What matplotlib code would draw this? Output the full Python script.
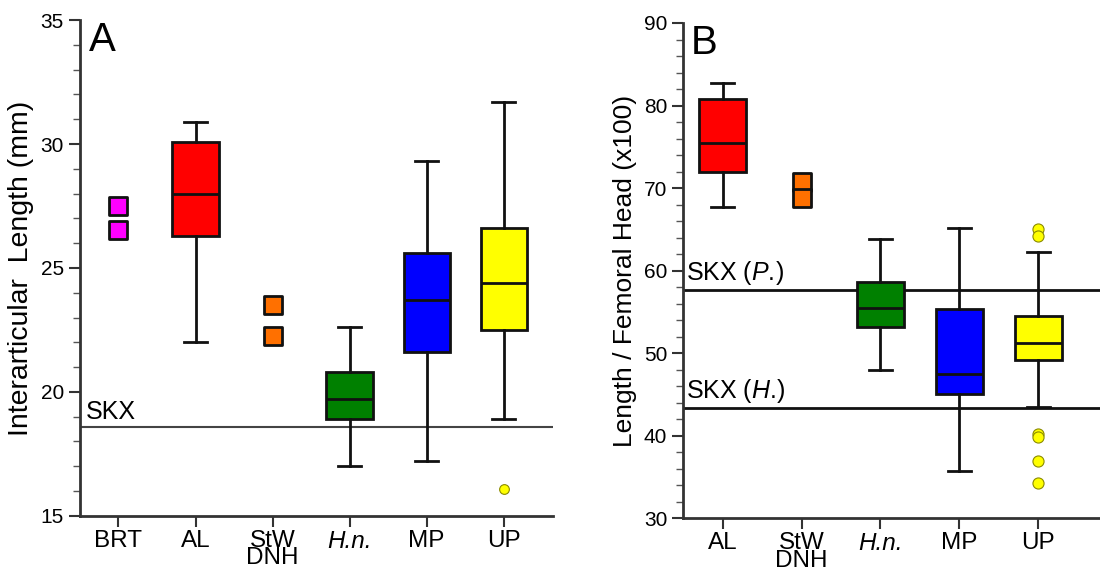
import matplotlib.pyplot as plt
from matplotlib.ticker import MultipleLocator

plt.rcParams['font.family'] = ['Liberation Sans', 'DejaVu Sans']
plt.rcParams['mathtext.fontset'] = 'custom'
plt.rcParams['mathtext.rm'] = 'Liberation Sans'
plt.rcParams['mathtext.it'] = 'Liberation Sans:italic'

# Panel A: interarticular length (mm)
cats_a = ['BRT', 'AL', 'StW\nDNH', 'H.n.', 'MP', 'UP']
brt_a = [27.5, 26.55]
stw_a = [23.5, 22.25]
box_names_a = ['AL', 'H.n.', 'MP', 'UP']
box_pos_a = [1, 3, 4, 5]
whislo_a = [22.0, 17.0, 17.2, 18.9]
q1_a = [26.3, 18.9, 21.6, 22.5]
med_a = [28.0, 19.7, 23.7, 24.4]
q3_a = [30.1, 20.8, 25.6, 26.6]
whishi_a = [30.9, 22.6, 29.3, 31.7]
fliers_a = [[], [], [], [16.1]]
colors_a = ['#ff0000', '#008000', '#0000ff', '#ffff00']
skx_a = 18.6

# Panel B: length / femoral head (x100)
cats_b = ['AL', 'StW\nDNH', 'H.n.', 'MP', 'UP']
stw_b = [70.7, 68.8]
box_names_b = ['AL', 'H.n.', 'MP', 'UP']
box_pos_b = [0, 2, 3, 4]
whislo_b = [67.7, 47.9, 35.7, 43.5]
q1_b = [72.0, 53.1, 45.0, 49.1]
med_b = [75.5, 55.4, 47.5, 51.2]
q3_b = [80.8, 58.6, 55.3, 54.5]
whishi_b = [82.7, 63.8, 65.1, 62.3]
fliers_b = [[], [], [], [65.0, 64.2, 40.2, 39.8, 36.9, 34.2]]
colors_b = ['#ff0000', '#008000', '#0000ff', '#ffff00']
skx_p = 57.7
skx_h = 43.4


def make_stats(names, lo, q1, med, q3, hi, fl):
    stats = []
    for i in range(len(names)):
        stats.append(dict(label=names[i], whislo=lo[i], q1=q1[i], med=med[i],
                          q3=q3[i], whishi=hi[i], fliers=fl[i]))
    return stats


def draw_boxes(ax, stats, pos, colors, flier_size):
    bp = ax.bxp(stats, positions=pos, widths=0.6, patch_artist=True,
                boxprops=dict(linewidth=2, edgecolor='#111111'),
                medianprops=dict(color='#111111', linewidth=2),
                whiskerprops=dict(color='#111111', linewidth=2),
                capprops=dict(color='#111111', linewidth=2),
                capwidths=0.29, manage_ticks=False)
    for patch, c in zip(bp['boxes'], colors):
        patch.set_facecolor(c)
    for fl, c in zip(bp['fliers'], colors):
        fl.set(marker='o', markerfacecolor=c, markeredgecolor='#8a8a00',
               markersize=flier_size, markeredgewidth=0.8)
    return bp


def style_axis(ax, cats):
    for s in ['top', 'right']:
        ax.spines[s].set_visible(False)
    for s in ['left', 'bottom']:
        ax.spines[s].set_linewidth(2)
        ax.spines[s].set_color('#333333')
    ax.set_xticks(range(len(cats)))
    ax.set_xticklabels(cats, linespacing=0.74)
    for lbl in ax.get_xticklabels():
        if lbl.get_text() == 'H.n.':
            lbl.set_style('italic')
    ax.tick_params(axis='both', which='major', direction='out', length=8,
                   width=1.5, color='#333333', labelsize=15)
    ax.tick_params(axis='x', labelsize=17.5, pad=2)
    ax.tick_params(axis='y', which='minor', direction='out', length=5,
                   width=1, color='#555555')


fig = plt.figure(figsize=(11, 5.75), dpi=100)
ax1 = fig.add_axes([0.0727, 0.103, 0.43, 0.862])
ax2 = fig.add_axes([0.621, 0.099, 0.379, 0.861])

# Panel A
draw_boxes(ax1, make_stats(box_names_a, whislo_a, q1_a, med_a, q3_a, whishi_a, fliers_a),
           box_pos_a, colors_a, 7)
ax1.scatter([0] * len(brt_a), brt_a, marker='s', s=150, color='#ff00ff',
            edgecolor='#111111', linewidth=2, zorder=3)
ax1.scatter([2] * len(stw_a), stw_a, marker='s', s=150, color='#ff7000',
            edgecolor='#111111', linewidth=2, zorder=3)
ax1.axhline(skx_a, color='#444444', linewidth=1.5, zorder=1)
ax1.text(-0.43, skx_a + 0.1, 'SKX', fontsize=18, va='bottom', ha='left')
ax1.set_ylim(15, 35)
ax1.set_xlim(-0.5, 5.64)
ax1.yaxis.set_major_locator(MultipleLocator(5))
ax1.yaxis.set_minor_locator(MultipleLocator(1))
style_axis(ax1, cats_a)
ax1.set_ylabel('Interarticular  Length (mm)', fontsize=20.5, labelpad=5)
ax1.text(0.018, 0.998, 'A', transform=ax1.transAxes, fontsize=29,
         va='top', ha='left')

# Panel B
draw_boxes(ax2, make_stats(box_names_b, whislo_b, q1_b, med_b, q3_b, whishi_b, fliers_b),
           box_pos_b, colors_b, 8)
ax2.scatter([1] * len(stw_b), stw_b, marker='s', s=150, color='#ff7000',
            edgecolor='#111111', linewidth=2, zorder=3)
ax2.axhline(skx_p, color='#111111', linewidth=2, zorder=1)
ax2.axhline(skx_h, color='#111111', linewidth=2, zorder=1)
ax2.text(-0.46, skx_p + 0.3, r'SKX ($\mathit{P.}\!$)', fontsize=18,
         va='bottom', ha='left')
ax2.text(-0.46, skx_h + 0.3, r'SKX ($\mathit{H.}\!$)', fontsize=18,
         va='bottom', ha='left')
ax2.set_ylim(30, 90)
ax2.set_xlim(-0.5, 4.78)
ax2.yaxis.set_major_locator(MultipleLocator(10))
ax2.yaxis.set_minor_locator(MultipleLocator(2))
style_axis(ax2, cats_b)
ax2.set_ylabel('Length / Femoral Head (x100)', fontsize=19, labelpad=5)
ax2.text(0.018, 0.998, 'B', transform=ax2.transAxes, fontsize=29,
         va='top', ha='left')

fig.savefig('out.png', dpi=100)
